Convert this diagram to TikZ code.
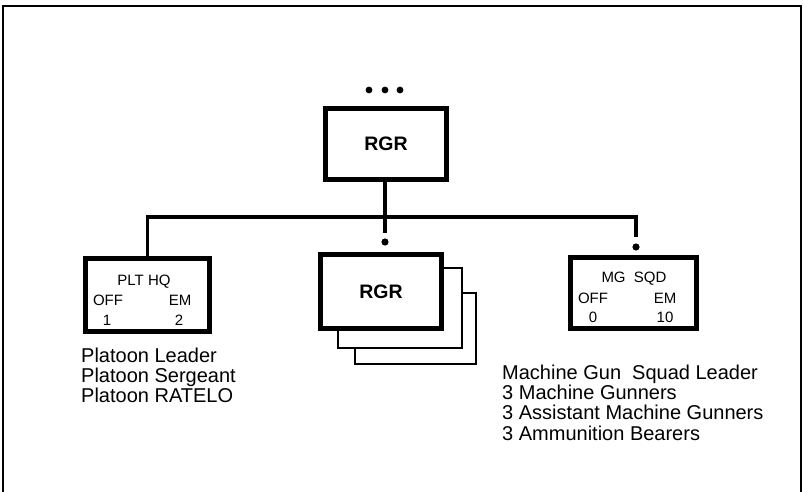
\documentclass[tikz,border=0pt]{standalone}
\usepackage{fontspec}
\setmainfont{Liberation Sans}
\usetikzlibrary{positioning}

\begin{document}
\begin{tikzpicture}[
                x=1pt,
                y=-1pt,
                line join=miter,
                orgbox/.style={draw, line width=4.5pt, fill=white, inner sep=0pt},
                backbox/.style={draw, line width=1.6pt, fill=white, inner sep=0pt},
                link/.style={line width=3.8pt},
                unitname/.style={font=\bfseries\fontsize{19.5}{20}\selectfont},
                cell/.style={font=\fontsize{15}{15}\selectfont, inner sep=0pt},
                roster/.style={font=\fontsize{20}{20}\selectfont, inner sep=0pt, anchor=base west}
            ]

            \useasboundingbox (0,0) rectangle (804,492);

            % frame
            \draw[line width=2.2pt] (3,495) -- (3,6) -- (801,6) -- (801,495);

            % higher echelons
            \foreach \dx in {369,385,400} {
                \fill (\dx,90) circle (3.4);
            }

            \node[orgbox, unitname, minimum width=121, minimum height=71] (rgrtop) at (386,144) {RGR};

            % stacked rangers
            \node[backbox, minimum width=121, minimum height=71] (rgrback2) at (415.5,328.5) {};
            \node[backbox, minimum width=124, minimum height=80] (rgrback1) at (400,308) {};
            \node[orgbox, unitname, minimum width=121, minimum height=74] (rgr) at (381,291.5) {RGR};

            \node[orgbox, minimum width=124, minimum height=73] (plthq) at (147.5,295) {};
            \node[orgbox, minimum width=126, minimum height=71] (mgsqd) at (633.5,293) {};

            % cells of the boxes
            \node[cell] (plthqname) at (144,282) {PLT HQ};
            \node[cell] (plthqoff) at (108,300) {OFF};
            \node[cell] (plthqem) at (180,300) {EM};
            \node[cell] (plthqoffn) at (107,320) {1};
            \node[cell] (plthqemn) at (179,320) {2};

            \node[cell] (mgsqdname) at (634,279) {MG~~SQD};
            \node[cell] (mgsqdoff) at (593,298) {OFF};
            \node[cell] (mgsqdem) at (665,298) {EM};
            \node[cell] (mgsqdoffn) at (593,317) {0};
            \node[cell] (mgsqdemn) at (665,317) {10};

            % lines
            \coordinate (bus) at (385,217);
            \coordinate (rgrdot) at (385,242);
            \coordinate (mgdot) at (636,247);
            \draw[link] (rgrtop.south -| bus) -- ([yshift=9pt]rgrdot);
            \draw[link] (plthq.north) -- (plthq.north |- bus) -- (mgdot |- bus) -- ([yshift=10pt]mgdot);
            \fill (rgrdot) circle (3.6);
            \fill (mgdot) circle (3.6);

            % personnel
            \foreach \lab [count=\i] in {Platoon Leader, Platoon Sergeant, Platoon RATELO} {
                \node[roster] (hq\i) at (81,342+20*\i) {\lab};
            }
            \foreach \lab [count=\i] in {Machine Gun~~Squad Leader, 3 Machine Gunners,
                3 Assistant Machine Gunners, 3 Ammunition Bearers} {
                \node[roster] (mg\i) at (502,359+20.3*\i) {\lab};
            }

        \end{tikzpicture}
\end{document}
